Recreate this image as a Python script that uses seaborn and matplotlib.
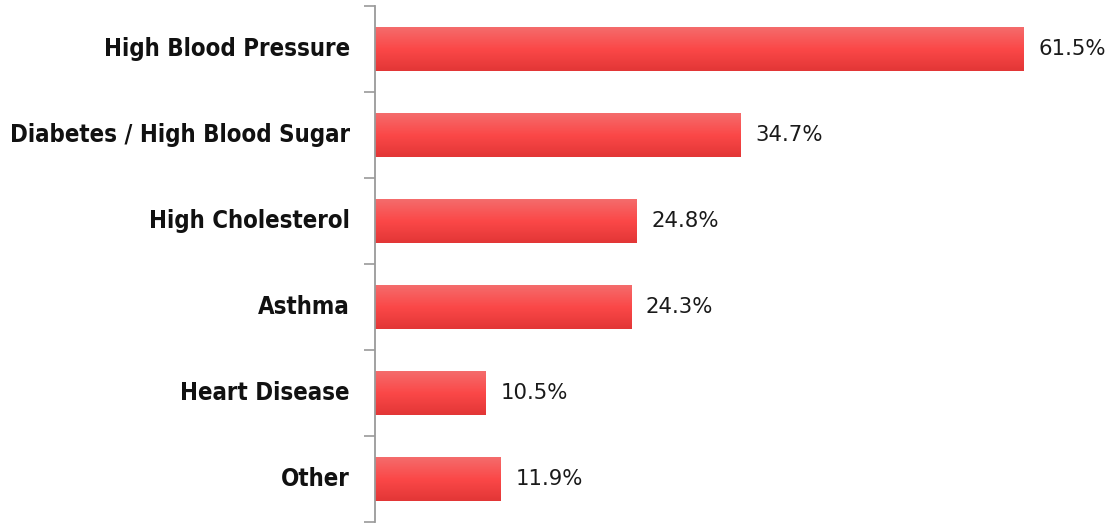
import numpy as np
import pandas as pd
import matplotlib
matplotlib.use("Agg")
import matplotlib.pyplot as plt
from matplotlib.colors import LinearSegmentedColormap
import seaborn as sns

conditions = ["High Blood Pressure", "Diabetes / High Blood Sugar", "High Cholesterol",
              "Asthma", "Heart Disease", "Other"]
percent = [61.5, 34.7, 24.8, 24.3, 10.5, 11.9]
value_labels = ["61.5%", "34.7%", "24.8%", "24.3%", "10.5%", "11.9%"]

df = pd.DataFrame({"condition": conditions, "percent": percent})

sns.set_theme(style="white")
plt.rcParams["font.family"] = ["DejaVu Sans"]

fig = plt.figure(figsize=(11.11, 5.25), dpi=100)
ax = fig.add_axes([375 / 1111, 3 / 525, 736 / 1111, 516 / 525])

sns.barplot(data=df, x="percent", y="condition", ax=ax, color="#f44848",
            width=0.51, saturation=1, orient="h")

# vertical red gradient on each bar
grad = LinearSegmentedColormap.from_list("bar", ["#e23636", "#fb4848", "#f46c6c"])
ramp = np.linspace(0, 1, 256).reshape(-1, 1)
for patch in list(ax.patches):
    x0, y0 = patch.get_x(), patch.get_y()
    w, h = patch.get_width(), patch.get_height()
    im = ax.imshow(ramp, cmap=grad, aspect="auto", extent=[x0, x0 + w, y0 + h, y0],
                   origin="lower", zorder=patch.get_zorder() + 0.1)
    im.set_clip_path(patch)
    patch.set_edgecolor("none")

for i, (v, lab) in enumerate(zip(percent, value_labels)):
    ax.text(v + 1.4, i, lab, va="center", ha="left", fontsize=15.3, color="#1a1a1a",
            fontstretch="semi-condensed")

ax.set_xlim(0, 69.8)
ax.set_ylim(5.5, -0.5)
ax.set_xlabel("")
ax.set_ylabel("")
ax.set_xticks([])

for side in ["top", "right", "bottom"]:
    ax.spines[side].set_visible(False)
ax.spines["left"].set_color("#9a9a9a")
ax.spines["left"].set_linewidth(1.3)

ax.set_yticks(np.arange(-0.5, 6.0, 1.0), minor=True)
ax.tick_params(axis="y", which="minor", length=8, width=1.2, color="#9a9a9a", direction="out", left=True)
ax.tick_params(axis="y", which="major", length=0, pad=18)
for t in ax.get_yticklabels():
    t.set_fontweight("bold")
    t.set_fontsize(17.2)
    t.set_fontstretch("condensed")
    t.set_color("#111111")
    t.set_verticalalignment("center")

fig.savefig("out.png", dpi=100)
